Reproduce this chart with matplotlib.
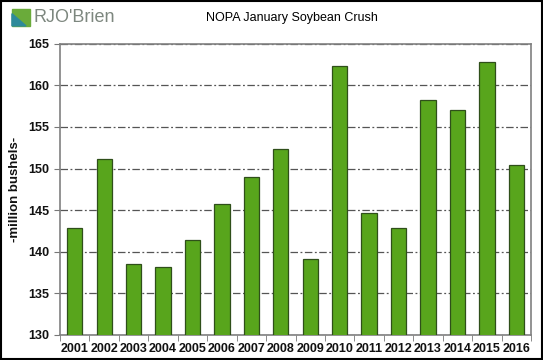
import numpy as np
import matplotlib.pyplot as plt
from matplotlib.patches import Rectangle, Polygon

plt.rcParams['font.family'] = ['Liberation Sans', 'DejaVu Sans']

# Данные
years = ['2001', '2002', '2003', '2004', '2005', '2006', '2007', '2008',
         '2009', '2010', '2011', '2012', '2013', '2014', '2015', '2016']
crush = [142.9, 151.1, 138.5, 138.1, 141.4, 145.7, 149.0, 152.4,
         139.1, 162.4, 144.6, 142.8, 158.2, 157.0, 162.8, 150.4]
y_ticks = [130, 135, 140, 145, 150, 155, 160, 165]

fig = plt.figure(figsize=(5.43, 3.6), dpi=100)
ax = fig.add_axes([0.1105, 0.0703, 0.8675, 0.8077])

x = np.arange(len(years))
ax.bar(x, crush, width=0.52, color='#58a51c', edgecolor='#2f4f1a',
       linewidth=0.9, zorder=3)

ax.set_xlim(-0.5, len(years) - 0.5)
ax.set_ylim(130, 165)
ax.set_yticks(y_ticks)
ax.set_xticks(x)
ax.set_xticklabels(years, fontweight='bold')
ax.set_yticklabels([str(v) for v in y_ticks], fontweight='bold')
ax.set_xticks(np.arange(len(years) + 1) - 0.5, minor=True)
ax.tick_params(axis='x', which='major', length=0, labelsize=9, pad=6,
               labelcolor='#111111')
ax.tick_params(axis='x', which='minor', length=4, direction='out',
               color='#777777')
ax.tick_params(axis='y', length=4, direction='out', color='#777777',
               labelsize=9, pad=4, labelcolor='#111111')

ax.grid(axis='y', linestyle=(0, (6, 2, 1.5, 2)), color='#555555',
        linewidth=0.9, zorder=0)
for s in ax.spines.values():
    s.set_color('#808080')
    s.set_linewidth(1.2)

ax.set_ylabel('-million bushels-', fontsize=9.5, fontweight='bold',
              labelpad=5, color='#111111')
fig.text(0.538, 0.95, 'NOPA January Soybean Crush', ha='center',
         va='center', fontsize=9)

# Логотип
fig.patches.append(Rectangle((0.022, 0.928), 0.034, 0.047,
                             transform=fig.transFigure, color='#6aab3a'))
fig.patches.append(Polygon([(0.022, 0.928), (0.048, 0.928), (0.022, 0.962)],
                           closed=True, transform=fig.transFigure,
                           color='#2e8a9a'))
fig.text(0.061, 0.95, "RJO'Brien", fontsize=13, color='#7d877f',
         ha='left', va='center')

# Рамка
fig.patches.append(Rectangle((0.002, 0.003), 0.996, 0.994,
                             transform=fig.transFigure, fill=False,
                             edgecolor='black', linewidth=1.5))

fig.savefig('out.png', dpi=100)
